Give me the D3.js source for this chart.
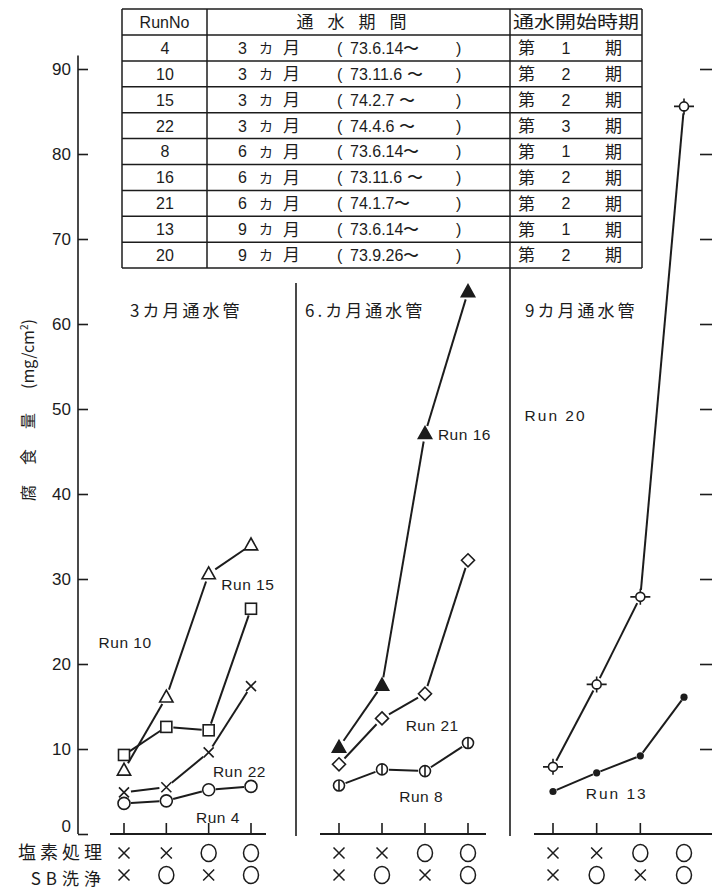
<!DOCTYPE html>
<html><head><meta charset="utf-8">
<script src="https://cdn.jsdelivr.net/npm/d3@7"></script>
<style>
body{margin:0;background:#fff}
svg{display:block}
text{fill:#1c1c1c}
</style></head><body>
<svg id="chart" width="712" height="890"></svg>
<script>
// x-axis treatment conditions (shared by all three panels)
const chlorine = ["×","×","○","○"];   // 塩素処理
const sbWash   = ["×","○","×","○"];   // SB洗浄
const yTicks   = [0,10,20,30,40,50,60,70,80,90];
const panelTitles = ["3カ月通水管","6.カ月通水管","9カ月通水管"];

// corrosion amount (mg/cm²) per run, in treatment order
const run10 = [7.5, 16.1, 30.6, 34.0];
const run15 = [9.3, 12.6, 12.2, 26.5];
const run22 = [4.9, 5.5, 9.6, 17.4];
const run4  = [3.6, 3.9, 5.2, 5.6];
const run16 = [10.2, 17.5, 47.1, 63.8];
const run21 = [8.2, 13.6, 16.5, 32.2];
const run8  = [5.7, 7.6, 7.4, 10.7];
const run20 = [7.9, 17.6, 27.9, 85.6];
const run13 = [5.0, 7.2, 9.2, 16.1];

// run table
const tableRuns   = ["4","10","15","22","8","16","21","13","20"];
const tableMonths = ["3","3","3","3","6","6","6","9","9"];
const tableStart  = ["73.6.14〜","73.11.6 〜","74.2.7 〜","74.4.6 〜","73.6.14〜","73.11.6 〜","74.1.7〜","73.6.14〜","73.9.26〜"];
const tablePhase  = ["1","2","2","3","1","2","2","1","2"];

const svg = d3.select("#chart");
const INK = "#1c1c1c";
const JP = "'Noto Sans CJK JP','Noto Sans',sans-serif";
const NUM = "'Liberation Sans',Arial,sans-serif";

const y = d3.scaleLinear().domain([0, 90]).range([834, 69]);
const idx = [0,1,2,3];
const xs = [
  d3.scalePoint().domain(idx).range([124, 251]),
  d3.scalePoint().domain(idx).range([339, 468]),
  d3.scalePoint().domain(idx).range([553, 684])
];

const series = [
  {name:"Run 10", panel:0, values:run10, marker:"triOpen"},
  {name:"Run 15", panel:0, values:run15, marker:"square"},
  {name:"Run 22", panel:0, values:run22, marker:"cross"},
  {name:"Run 4",  panel:0, values:run4,  marker:"circle"},
  {name:"Run 16", panel:1, values:run16, marker:"triFill"},
  {name:"Run 21", panel:1, values:run21, marker:"diamond"},
  {name:"Run 8",  panel:1, values:run8,  marker:"circleBar"},
  {name:"Run 20", panel:2, values:run20, marker:"target"},
  {name:"Run 13", panel:2, values:run13, marker:"dot"}
];

// ---------- left y axis ----------
const yAxis = d3.axisLeft(y).tickValues(yTicks).tickSizeInner(-10).tickSizeOuter(0).tickPadding(7);
const gy = svg.append("g").attr("transform","translate(78,0)").call(yAxis);
gy.select(".domain").remove();
gy.selectAll(".tick line").attr("stroke",INK).attr("stroke-width",1.6);
gy.selectAll(".tick text").attr("font-family",NUM).attr("font-size",17).attr("fill",INK)
  .attr("dy", d => d === 0 ? "-0.12em" : "0.35em");
svg.append("line").attr("x1",78).attr("x2",78).attr("y1",y(0)).attr("y2",y(91.6))
  .attr("stroke",INK).attr("stroke-width",1.6);

// right-hand tick marks
const rAxis = d3.axisLeft(y).tickValues(yTicks.slice(1)).tickSizeInner(12).tickSizeOuter(0).tickFormat("");
const gr = svg.append("g").attr("transform","translate(712,0)").call(rAxis);
gr.select(".domain").remove();
gr.selectAll(".tick line").attr("stroke",INK).attr("stroke-width",1.6);

// y axis title
const yt = svg.append("text").attr("transform","translate(34,410) rotate(-90)")
  .attr("text-anchor","middle").attr("font-family",JP).attr("font-size",16);
yt.append("tspan").attr("letter-spacing",20).text("腐食量");
yt.append("tspan").attr("dx",4).text("(mg/cm");
yt.append("tspan").attr("font-size",10).attr("dy",-6).text("2");
yt.append("tspan").attr("dy",6).text(")");

// ---------- panel frames ----------
const baseSpans = [[110,266],[320,486],[534,712]];
baseSpans.forEach((s,p) => {
  svg.append("line").attr("x1",s[0]).attr("x2",s[1]).attr("y1",y(0)).attr("y2",y(0))
    .attr("stroke",INK).attr("stroke-width",1.8);
  const ticks = p === 2 ? idx.slice(0,3) : idx;
  ticks.forEach(i => {
    svg.append("line").attr("x1",xs[p](i)).attr("x2",xs[p](i)).attr("y1",y(0)).attr("y2",y(0)-11)
      .attr("stroke",INK).attr("stroke-width",1.6);
  });
});
svg.append("line").attr("x1",296).attr("x2",296).attr("y1",283).attr("y2",836).attr("stroke",INK).attr("stroke-width",1.6);
svg.append("line").attr("x1",510).attr("x2",510).attr("y1",268).attr("y2",836).attr("stroke",INK).attr("stroke-width",1.6);

// panel titles
const titleX = [130, 305, 525];
panelTitles.forEach((t,p) => {
  svg.append("text").attr("x",titleX[p]).attr("y",317).attr("font-family",JP)
    .attr("font-size",17).attr("letter-spacing",3).text(t);
});

// ---------- treatment rows ----------
svg.append("text").attr("x",106).attr("y",859).attr("text-anchor","end").attr("font-family",JP)
  .attr("font-size",18).attr("letter-spacing",4).text("塩素処理");
svg.append("text").attr("x",106).attr("y",885).attr("text-anchor","end").attr("font-family",JP)
  .attr("font-size",17).attr("letter-spacing",5).text("SB洗浄");

function condMark(cx, cy, v){
  if (v === "○") {
    svg.append("ellipse").attr("cx",cx).attr("cy",cy).attr("rx",7.5).attr("ry",8.5)
      .attr("fill","none").attr("stroke",INK).attr("stroke-width",1.5);
  } else {
    const h = 5.5;
    svg.append("path").attr("d",`M${cx-h},${cy-h}L${cx+h},${cy+h}M${cx+h},${cy-h}L${cx-h},${cy+h}`)
      .attr("stroke",INK).attr("stroke-width",1.5).attr("fill","none");
  }
}
xs.forEach(x => {
  idx.forEach(i => {
    condMark(x(i), 853, chlorine[i]);
    condMark(x(i), 875, sbWash[i]);
  });
});

// ---------- series ----------
const gap = {triOpen:8, square:7, cross:7, circle:7, triFill:8, diamond:8, circleBar:7, target:7, dot:4};
series.forEach(s => {
  const x = xs[s.panel];
  const pts = s.values.map((v,i) => [x(i), y(v)]);
  const g = gap[s.marker];
  for (let i = 0; i < pts.length - 1; i++) {
    const [x1,y1] = pts[i], [x2,y2] = pts[i+1];
    const L = Math.hypot(x2-x1, y2-y1), ux = (x2-x1)/L, uy = (y2-y1)/L;
    svg.append("line")
      .attr("x1",x1+ux*g).attr("y1",y1+uy*g).attr("x2",x2-ux*g).attr("y2",y2-uy*g)
      .attr("stroke",INK).attr("stroke-width",2);
  }
  pts.forEach(([cx,cy]) => drawMarker(s.marker, cx, cy));
});

function drawMarker(m, cx, cy){
  const st = {stroke:INK, "stroke-width":1.6};
  const app = (tag, attrs) => { const e = svg.append(tag); Object.entries(attrs).forEach(([k,v]) => e.attr(k,v)); return e; };
  if (m === "triOpen" || m === "triFill") {
    const r = 7;
    app("path", {...st, d:`M${cx},${cy-r}L${cx+r*0.95},${cy+r*0.7}L${cx-r*0.95},${cy+r*0.7}Z`,
      fill: m === "triFill" ? INK : "#fff"});
  } else if (m === "square") {
    app("rect", {...st, x:cx-5.5, y:cy-5.5, width:11, height:11, fill:"#fff"});
  } else if (m === "cross") {
    const h = 5;
    app("path", {...st, d:`M${cx-h},${cy-h}L${cx+h},${cy+h}M${cx+h},${cy-h}L${cx-h},${cy+h}`, fill:"none"});
  } else if (m === "circle") {
    app("circle", {...st, cx, cy, r:6, fill:"#fff"});
  } else if (m === "diamond") {
    const r = 6.5;
    app("path", {...st, d:`M${cx},${cy-r}L${cx+r},${cy}L${cx},${cy+r}L${cx-r},${cy}Z`, fill:"#fff"});
  } else if (m === "circleBar") {
    app("circle", {...st, cx, cy, r:5.5, fill:"#fff"});
    app("line", {...st, x1:cx, x2:cx, y1:cy-5.5, y2:cy+5.5});
  } else if (m === "target") {
    app("circle", {...st, cx, cy, r:4.5, fill:"#fff"});
    app("path", {...st, d:`M${cx-10},${cy}H${cx-4.5}M${cx+4.5},${cy}H${cx+10}M${cx},${cy-8}V${cy-4.5}M${cx},${cy+4.5}V${cy+8}`, fill:"none"});
  } else if (m === "dot") {
    app("circle", {cx, cy, r:3.6, fill:INK});
  }
}

// run labels, placed in data space next to their curves
const runLabels = [
  {t:"Run 10", p:0, i:-0.6,  v:22.5},
  {t:"Run 15", p:0, i:2.3,  v:29.4},
  {t:"Run 22", p:0, i:2.1,  v:7.4},
  {t:"Run 4",  p:0, i:1.7,  v:1.9},
  {t:"Run 16", p:1, i:2.3,  v:47.0},
  {t:"Run 21", p:1, i:1.55, v:12.8},
  {t:"Run 8",  p:1, i:1.4,  v:4.4},
  {t:"Run 20", p:2, i:-0.65, v:49.2},
  {t:"Run 13", p:2, i:0.75, v:4.7}
];
runLabels.forEach(d => {
  const x = xs[d.p];
  const step = x.step();
  svg.append("text").attr("x", x(0) + d.i*step).attr("y", y(d.v))
    .attr("font-family",NUM).attr("font-size",15.5).attr("dy","0.35em")
    .attr("letter-spacing", d.p === 2 ? 2 : 0.5).text(d.t);
});

// ---------- run table ----------
const T = {left:122, right:642, c1:207, c2:510, top:9, head:35, rowH:25.9};
const nRows = tableRuns.length;
const tBottom = T.head + nRows*T.rowH;
const tbl = svg.append("g");
const tl = (x1,y1,x2,y2) => tbl.append("line").attr("x1",x1).attr("y1",y1).attr("x2",x2).attr("y2",y2)
  .attr("stroke",INK).attr("stroke-width",1.5);
tl(T.left,T.top,T.right,T.top);
tl(T.left,T.head,T.right,T.head);
for (let r = 1; r <= nRows; r++) tl(T.left, T.head + r*T.rowH, T.right, T.head + r*T.rowH);
[T.left, T.c1, T.c2, T.right].forEach(x => tl(x, T.top, x, tBottom));

const hy = (T.top + T.head)/2;
tbl.append("text").attr("x",(T.left+T.c1)/2).attr("y",hy).attr("dy","0.36em").attr("text-anchor","middle")
  .attr("font-family",NUM).attr("font-size",16).text("RunNo");
tbl.append("text").attr("x",(T.c1+T.c2)/2).attr("y",hy).attr("dy","0.38em").attr("text-anchor","middle")
  .attr("font-family",JP).attr("font-size",17).attr("letter-spacing",14).text("通水期間");
tbl.append("text").attr("x",T.c2+3).attr("y",hy).attr("dy","0.38em")
  .attr("font-family",JP).attr("font-size",17).attr("textLength",126).attr("lengthAdjust","spacingAndGlyphs").text("通水開始時期");

tableRuns.forEach((run, r) => {
  const cy = T.head + (r + 0.5)*T.rowH;
  const row = tbl.append("g");
  const txt = (x, s, fam, size, anchor) => row.append("text").attr("x",x).attr("y",cy).attr("dy","0.37em")
    .attr("text-anchor",anchor||"start").attr("font-family",fam).attr("font-size",size).text(s);
  txt(165, run, NUM, 16, "middle");
  txt(238, tableMonths[r], NUM, 16);
  txt(259, "カ", JP, 14);
  txt(283, "月", JP, 17);
  txt(337, "(", NUM, 16);
  txt(350, tableStart[r], NUM, 16);
  txt(456, ")", NUM, 16);
  txt(518, "第", JP, 17);
  txt(566, tablePhase[r], NUM, 16, "middle");
  txt(605, "期", JP, 17);
});
</script>
</body></html>
